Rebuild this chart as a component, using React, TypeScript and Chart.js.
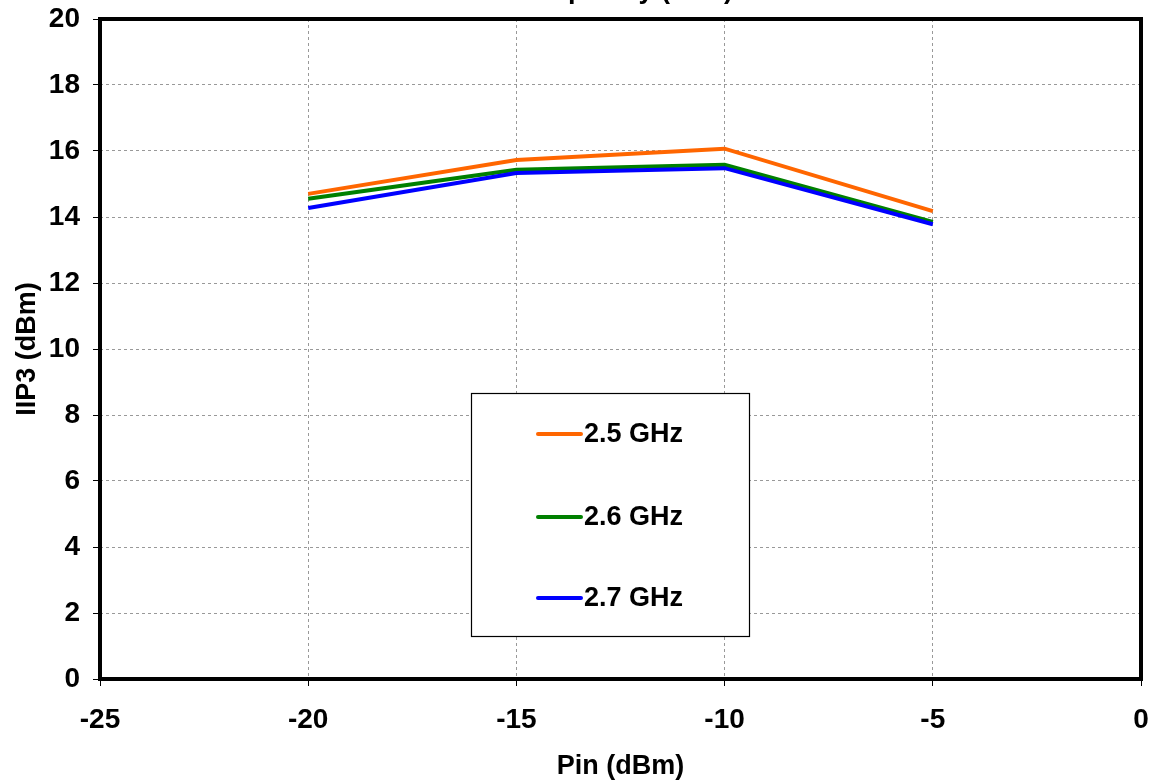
import React, { useEffect, useRef } from "react";
import { Chart, registerables } from "chart.js";

Chart.register(...registerables);

const chartTitle = "IIP3 vs Frequency (GHz)";
const xAxisTitle = "Pin (dBm)";
const yAxisTitle = "IIP3 (dBm)";
const pinValues = [-20, -15, -10, -5];
const seriesNames = ["2.5 GHz", "2.6 GHz", "2.7 GHz"];
const iip3At25 = [14.7, 15.73, 16.07, 14.18];
const iip3At26 = [14.55, 15.43, 15.58, 13.85];
const iip3At27 = [14.27, 15.33, 15.48, 13.78];
const seriesColors = ["#FF6600", "#008000", "#0000FF"];
const xTicks = { min: -25, max: 0, step: 5 };
const yTicks = { min: 0, max: 20, step: 2 };

const FONT = "'Liberation Sans', Arial, sans-serif";

const framePlugin = {
  id: "frame",
  afterDraw(chart: any) {
    const { ctx, chartArea } = chart;
    ctx.save();
    ctx.strokeStyle = "#000";
    ctx.lineWidth = 4;
    ctx.strokeRect(chartArea.left, chartArea.top, chartArea.right - chartArea.left, chartArea.bottom - chartArea.top);
    // clipped title at top
    ctx.fillStyle = "#000";
    ctx.font = `bold 27px ${FONT}`;
    ctx.textAlign = "right";
    ctx.textBaseline = "alphabetic";
    ctx.fillText(chartTitle, 733, -2);
    // legend box
    const bx = chartArea.left + 371;
    const by = chartArea.top + 374;
    const bw = 278;
    const bh = 243;
    ctx.fillStyle = "#fff";
    ctx.fillRect(bx, by, bw, bh);
    ctx.lineWidth = 1.2;
    ctx.strokeStyle = "#000";
    ctx.strokeRect(bx + 0.5, by + 0.5, bw, bh);
    const rows = [41, 124, 205];
    chart.data.datasets.forEach((ds: any, i: number) => {
      const y = by + rows[i];
      ctx.strokeStyle = ds.borderColor;
      ctx.lineWidth = 4;
      ctx.lineCap = "round";
      ctx.beginPath();
      ctx.moveTo(bx + 67, y);
      ctx.lineTo(bx + 110, y);
      ctx.stroke();
      ctx.fillStyle = "#000";
      ctx.font = `bold 27px ${FONT}`;
      ctx.textAlign = "left";
      ctx.textBaseline = "middle";
      ctx.fillText(ds.label, bx + 113, y + 1);
    });
    ctx.restore();
  },
};

export default function App() {
  const ref = useRef<HTMLCanvasElement>(null);
  useEffect(() => {
    if (!ref.current) return;
    const seriesData = [iip3At25, iip3At26, iip3At27];
    const chart = new Chart(ref.current, {
      type: "line",
      data: {
        labels: pinValues,
        datasets: seriesNames.map((name, i) => ({
          label: name,
          data: pinValues.map((x, j) => ({ x, y: seriesData[i][j] })),
          borderColor: seriesColors[i],
          backgroundColor: seriesColors[i],
          borderWidth: 4,
          pointRadius: 0,
          tension: 0,
          fill: false,
          order: 2 - i,
        })),
      },
      options: {
        animation: false,
        responsive: false,
        layout: { padding: { top: 19, right: 12, left: 0, bottom: 0 } },
        plugins: { legend: { display: false }, tooltip: { enabled: false }, title: { display: false } },
        scales: {
          x: {
            type: "linear",
            min: xTicks.min,
            max: xTicks.max,
            afterFit: (s: any) => { s.height = 101; s.paddingLeft = 0; s.paddingRight = 0; },
            ticks: { stepSize: xTicks.step, color: "#000", padding: 20, font: { family: FONT, size: 28, weight: "bold", lineHeight: 1 } },
            grid: { color: "#999", tickLength: 7, tickColor: "#000", tickWidth: 1, tickBorderDash: [] },
            border: { display: false, dash: [3, 3] },
            title: { display: true, text: xAxisTitle, color: "#000", padding: { top: 0, bottom: 0 }, font: { family: FONT, size: 27, weight: "bold", lineHeight: 1 } },
          },
          y: {
            type: "linear",
            min: yTicks.min,
            max: yTicks.max,
            afterFit: (s: any) => { s.width = 100; s.paddingTop = 0; s.paddingBottom = 0; },
            ticks: { stepSize: yTicks.step, color: "#000", padding: 13, font: { family: FONT, size: 28, weight: "bold", lineHeight: 1 } },
            grid: { color: "#999", tickLength: 7, tickColor: "#000", tickWidth: 1, tickBorderDash: [] },
            border: { display: false, dash: [3, 3] },
            title: { display: true, text: yAxisTitle, color: "#000", padding: { top: 14, bottom: 0 }, font: { family: FONT, size: 27, weight: "bold", lineHeight: 1 } },
          },
        },
      },
      plugins: [framePlugin],
    });
    return () => chart.destroy();
  }, []);
  return (
    <div style={{ position: "absolute", left: 0, top: 0, width: 1153, height: 780, background: "#fff" }}>
      <canvas ref={ref} width={1153} height={780} style={{ display: "block" }} />
    </div>
  );
}
